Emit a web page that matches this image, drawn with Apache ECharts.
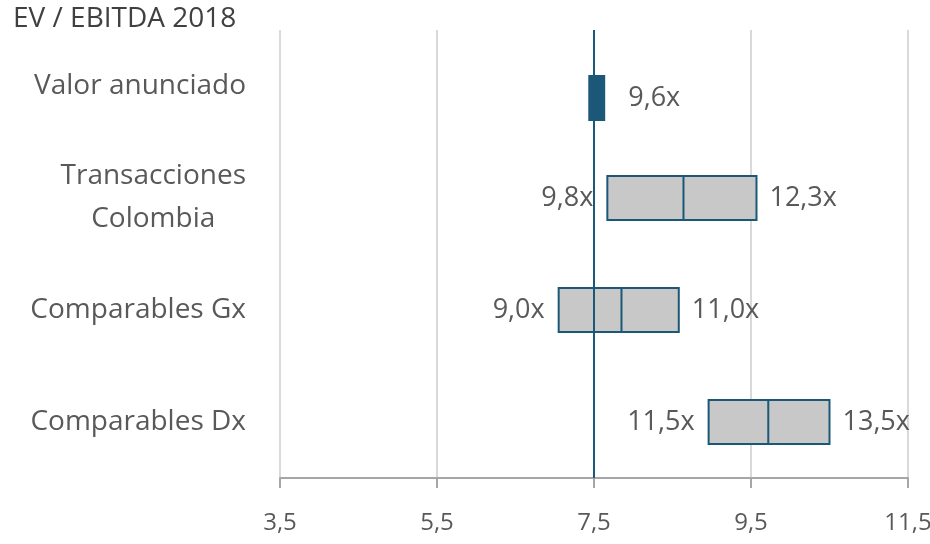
<!DOCTYPE html>
<html>
<head>
<meta charset="utf-8">
<script src="https://cdn.jsdelivr.net/npm/echarts@6/dist/echarts.min.js"></script>
<style>
  html, body { margin: 0; padding: 0; background: #fff; }
  #chart { width: 930px; height: 544px; }
</style>
</head>
<body>
<div id="chart"></div>
<script>
const categories = ["Valor anunciado", "Transacciones\nColombia", "Comparables Gx", "Comparables Dx"];
// range drawn on the axis: low, middle, high (middle null = no divider)
const lows = [7.44, 7.67, 7.05, 8.96];
const mids = [null, 8.64, 7.85, 9.72];
const highs = [7.63, 9.57, 8.58, 10.5];
const leftLabels = ["", "9,8x", "9,0x", "11,5x"];
const rightLabels = ["9,6x", "12,3x", "11,0x", "13,5x"];
const refValue = 7.5;
const tickValues = [3.5, 5.5, 7.5, 9.5, 11.5];

const chart = echarts.init(document.getElementById("chart"));

const font = "'Open Sans', sans-serif";
const textColor = "#595959";
const dark = "#1b5878";

const data = categories.map((c, i) => [i, lows[i], mids[i], highs[i]]);

const renderBox = (params, api) => {
  const idx = params.dataIndex;
  const cat = api.value(0);
  const p0 = api.coord([api.value(1), cat]);
  const p1 = api.coord([api.value(3), cat]);
  const single = mids[idx] == null;
  const h = 44;
  // first bar sits a little lower than its label in the original
  const y = p0[1] + (single ? 12 : 0);
  const children = [
    {
      type: "rect",
      shape: { x: p0[0], y: y - h / 2, width: p1[0] - p0[0], height: h },
      style: {
        fill: single ? dark : "#c8c8c8",
        stroke: dark,
        lineWidth: 2,
      },
    },
  ];
  if (!single) {
    const pm = api.coord([api.value(2), cat]);
    children.push({
      type: "line",
      shape: { x1: pm[0], y1: y - h / 2, x2: pm[0], y2: y + h / 2 },
      style: { stroke: dark, lineWidth: 2 },
    });
  }
  if (leftLabels[idx]) {
    children.push({
      type: "text",
      style: {
        text: leftLabels[idx],
        x: p0[0] - 14,
        y: y,
        align: "right",
        verticalAlign: "middle",
        fill: textColor,
        font: "27px " + font,
      },
    });
  }
  children.push({
    type: "text",
    style: {
      text: rightLabels[idx],
      x: p1[0] + (single ? 24 : 13),
      y: y,
      align: "left",
      verticalAlign: "middle",
      fill: textColor,
      font: "27px " + font,
    },
  });
  return { type: "group", children: children };
};

const option = {
  animation: false,
  title: {
    text: "EV / EBITDA 2018",
    left: 8,
    top: 0,
    textStyle: {
      fontFamily: font,
      fontSize: 28,
      fontWeight: "normal",
      color: "#404040",
    },
  },
  grid: {
    left: 280,
    right: 22,
    top: 30,
    bottom: 66,
    outerBoundsMode: "none",
  },
  xAxis: {
    type: "value",
    min: 3.5,
    max: 11.5,
    axisLine: { show: true, lineStyle: { color: "#a6a6a6", width: 2 } },
    axisTick: {
      show: true,
      length: 10,
      customValues: tickValues,
      lineStyle: { color: "#a6a6a6", width: 2 },
    },
    axisLabel: {
      customValues: tickValues,
      margin: 33,
      fontFamily: font,
      fontSize: 24,
      color: textColor,
      formatter: (v) => v.toFixed(1).replace(".", ","),
    },
    splitLine: { show: true, lineStyle: { color: "#d9d9d9", width: 2 } },
  },
  yAxis: {
    type: "category",
    inverse: true,
    data: categories,
    axisLine: { show: false },
    axisTick: { show: false },
    splitLine: { show: false },
    axisLabel: {
      margin: 34,
      fontFamily: font,
      fontSize: 28,
      color: textColor,
      lineHeight: 43,
      formatter: (v) =>
        v.split("\n").map((s) => "{c|" + s + "}").join("\n"),
      rich: {
        c: {
          align: "center",
          fontFamily: font,
          fontSize: 28,
          color: textColor,
          lineHeight: 43,
        },
      },
    },
  },
  series: [
    {
      type: "custom",
      renderItem: renderBox,
      encode: { x: [1, 2, 3], y: 0 },
      data: data,
      z: 2,
    },
    {
      type: "line",
      data: [],
      markLine: {
        silent: true,
        symbol: "none",
        label: { show: false },
        lineStyle: { color: dark, width: 2, type: "solid" },
        data: [{ xAxis: refValue }],
      },
      z: 3,
    },
  ],
};

chart.setOption(option);
</script>
</body>
</html>
